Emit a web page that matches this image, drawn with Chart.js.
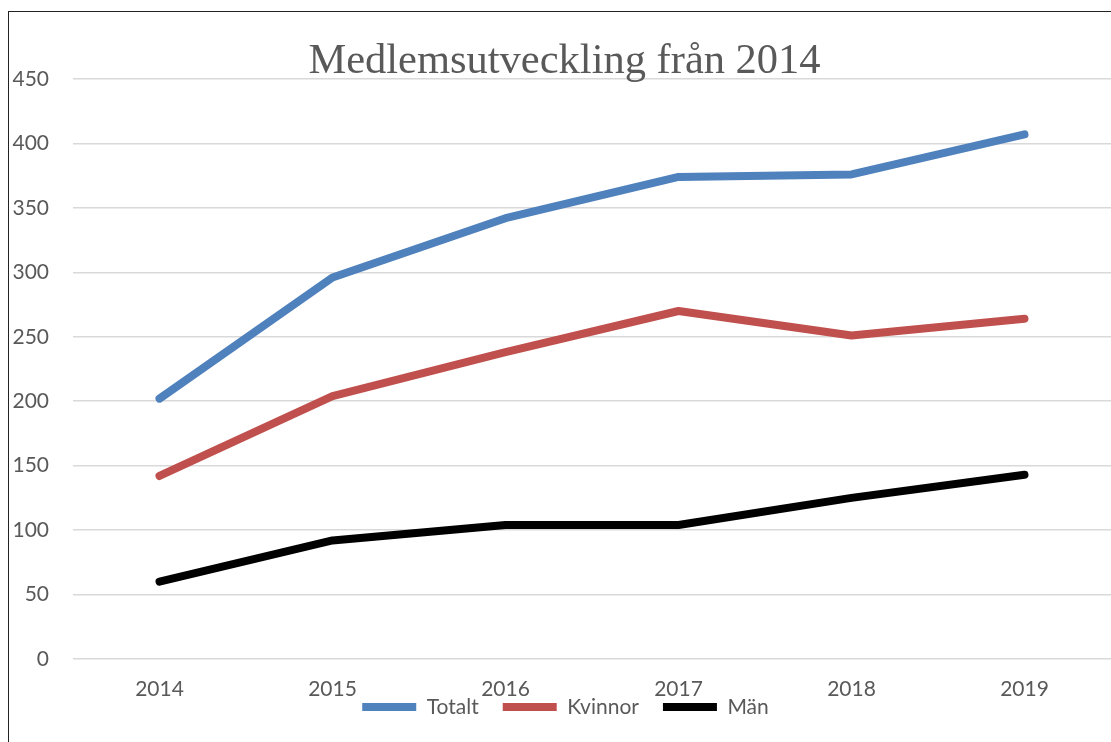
<!DOCTYPE html>
<html>
<head>
<meta charset="utf-8">
<script src="https://cdn.jsdelivr.net/npm/chart.js@4.4.1/dist/chart.umd.min.js"></script>
<style>
  html, body { margin: 0; padding: 0; background: #fff; }
  #wrap { position: relative; width: 1111px; height: 742px; }
  #frame { position: absolute; left: 8px; top: 11px; right: 0; bottom: 0;
           border-top: 1px solid #222; border-left: 1px solid #222; pointer-events: none; }
</style>
</head>
<body>
<div id="wrap">
  <canvas id="chart" width="1111" height="742"></canvas>
  <div id="frame"></div>
</div>
<script>
const years = ['2014', '2015', '2016', '2017', '2018', '2019'];
const totalt = [202, 296, 342, 374, 376, 407];
const kvinnor = [142, 204, 238, 270, 251, 264];
const man = [60, 92, 104, 104, 125, 143];
const yTicks = [0, 50, 100, 150, 200, 250, 300, 350, 400, 450];

const textColor = '#595959';
const gridColor = '#d9d9d9';
const sansFont = 'Lato, "Open Sans", sans-serif';

function lineSet(label, data, color) {
    return {
        label,
        data,
        borderColor: color,
        backgroundColor: color,
        borderWidth: 8,
        borderCapStyle: 'round',
        borderJoinStyle: 'round',
        pointRadius: 0,
        pointHoverRadius: 0,
        tension: 0,
        fill: false
    };
}

// legend takes little room and sits over the year labels, title a bit right of centre
const legendShift = {
    id: 'legendShift',
    afterInit(chart) {
        const lg = chart.legend;
        if (!lg) return;
        const fit = lg.fit;
        lg.fit = function () {
            fit.call(this);
            this.fullHeight = this.height;
            this.height = 40;
        };
    },
    afterLayout(chart) {
        const lg = chart.legend;
        if (lg) {
            const h = lg.fullHeight || lg.height;
            lg.top = 700 - h / 2;
            lg.height = h;
            lg.bottom = lg.top + h;
            lg.left += 10;
            lg.right += 10;
        }
        const tb = chart.titleBlock;
        if (tb) {
            tb.left += 9;
            tb.right += 9;
        }
    }
};

let chart = new Chart(document.getElementById('chart'), {
    type: 'line',
    data: {
        labels: years,
        datasets: [
            lineSet('Totalt', totalt, '#4f81bd'),
            lineSet('Kvinnor', kvinnor, '#c0504d'),
            lineSet('Män', man, '#000000')
        ]
    },
    plugins: [legendShift],
    options: {
        responsive: false,
        animation: false,
        layout: { padding: 0 },
        plugins: {
            title: {
                display: true,
                text: 'Medlemsutveckling från 2014',
                color: textColor,
                font: { family: '"Liberation Serif", "DejaVu Serif", serif', size: 42.5, weight: 'normal', lineHeight: '34px' },
                padding: { top: 45, bottom: 0 }
            },
            legend: {
                position: 'bottom',
                labels: {
                    usePointStyle: true,
                    pointStyle: 'line',
                    pointStyleWidth: 54,
                    color: textColor,
                    padding: 24,
                    font: { family: sansFont, size: 21 }
                }
            },
            tooltip: { enabled: false }
        },
        scales: {
            x: {
                offset: true,
                afterFit: (scale) => { scale.height = 43; },
                grid: { display: false, drawTicks: false },
                border: { display: false },
                ticks: {
                    color: textColor,
                    padding: 18,
                    font: { family: sansFont, size: 21 }
                }
            },
            y: {
                min: 0,
                max: 450,
                afterBuildTicks: (scale) => { scale.ticks = yTicks.map(v => ({ value: v })); },
                afterFit: (scale) => { scale.width = 73; },
                grid: { color: gridColor, lineWidth: 1.5, drawTicks: false },
                border: { display: false },
                ticks: {
                    color: textColor,
                    padding: 24,
                    font: { family: sansFont, size: 21 }
                }
            }
        }
    }
});
</script>
</body>
</html>
